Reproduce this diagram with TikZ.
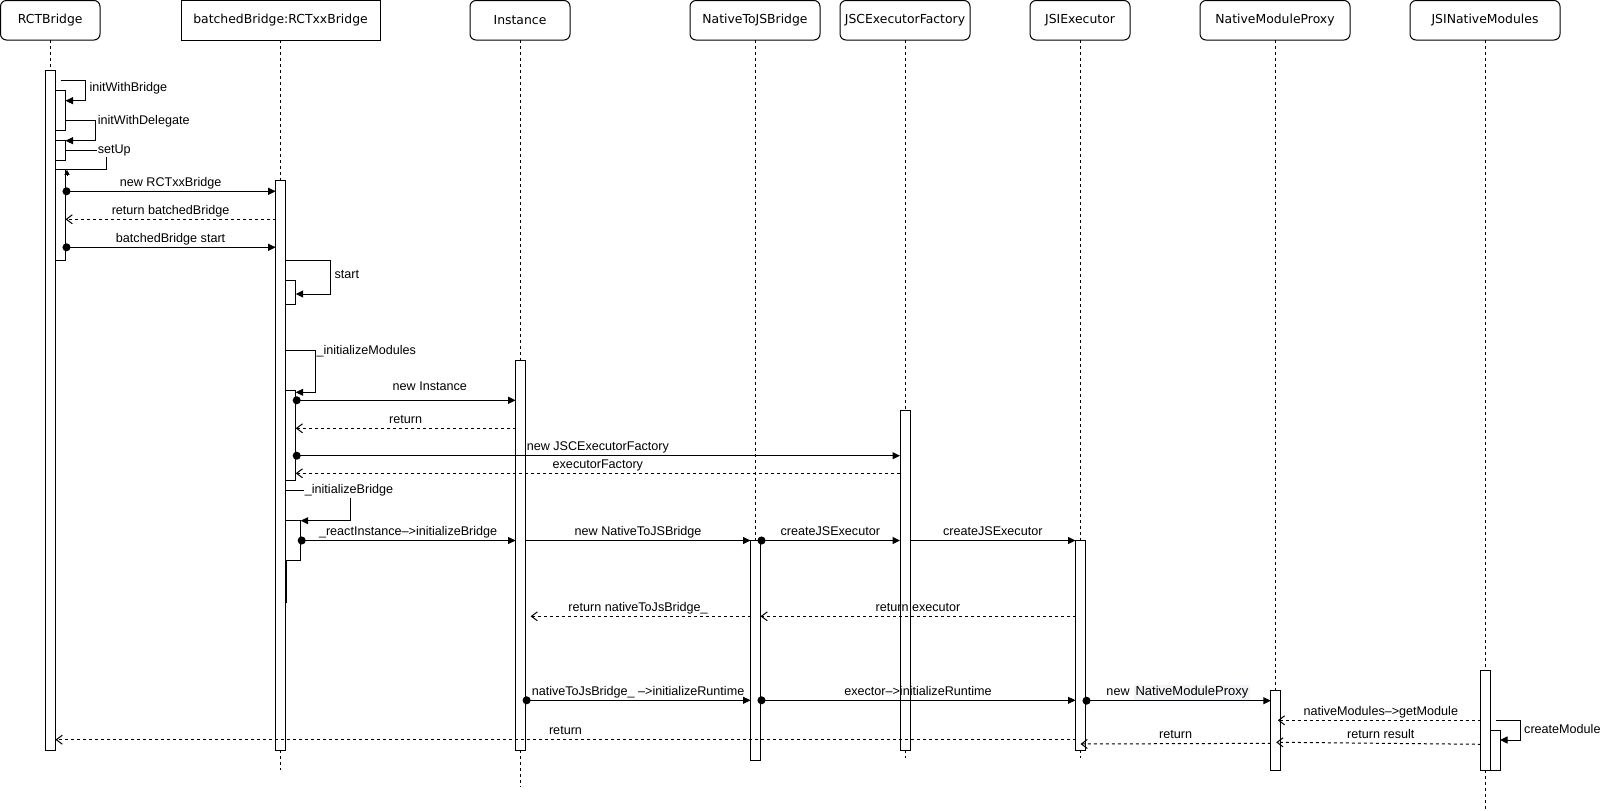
\documentclass[tikz,border=0pt]{standalone}
\usepackage{fontspec}
\setmainfont{Liberation Sans}
\newfontfamily\hdrfont{DejaVu Sans}
\usetikzlibrary{arrows.meta,calc}
\definecolor{pxbg}{RGB}{243,244,247}
\newcommand{\pxbox}[1]{{\setlength{\fboxsep}{1.5pt}\colorbox{pxbg}{\fontsize{13}{14}\selectfont #1}}}

\tikzset{
  hdr/.style={draw, rounded corners=6pt, minimum height=39.5pt, inner sep=0pt, outer sep=0pt,
    font=\hdrfont\fontsize{12.4}{14}\selectfont},
  life/.style={dash pattern=on 3pt off 3pt},
  act/.style={draw, fill=white, minimum width=10pt, inner sep=0pt, outer sep=0pt, anchor=north},
  msg/.style={-{Triangle[length=7.5pt,width=7pt]}},
  call/.style={{Circle[length=8pt]}-{Triangle[length=7.5pt,width=7pt]}, shorten <=-3pt},
  ret/.style={dash pattern=on 3pt off 3pt, -{Straight Barb[length=6pt,width=9pt]}},
  lbl/.style={font=\fontsize{12.6}{14}\selectfont, inner sep=0pt, anchor=base, yshift=5pt},
  side/.style={font=\fontsize{12.6}{14}\selectfont, inner sep=0pt, anchor=west}
}

\begin{document}
\begin{tikzpicture}[x=1pt, y=-1pt, line width=1pt, >=stealth]
        \useasboundingbox (0,0) rectangle (1601,811);

        % lifeline heads
        \node[hdr, minimum width=99.5pt] (rct) at (50.25,20.25) {RCTBridge};
        \node[hdr, sharp corners, minimum width=199pt] (bat) at (280.5,20.25) {batchedBridge:RCTxxBridge};
        \node[hdr, minimum width=100pt] (inst) at (520,20.25) {Instance};
        \node[hdr, minimum width=130pt] (ntj) at (755,20.25) {NativeToJSBridge};
        \node[hdr, minimum width=130pt] (jscf) at (905,20.25) {JSCExecutorFactory};
        \node[hdr, minimum width=100pt] (jsie) at (1080,20.25) {JSIExecutor};
        \node[hdr, minimum width=150pt] (nmp) at (1275,20.25) {NativeModuleProxy};
        \node[hdr, minimum width=150pt] (jsnm) at (1485,20.25) {JSINativeModules};

        % activations
        \node[act, minimum height=679.3pt] (rA) at (50.5,70.7) {};
        \node[act, minimum height=39.3pt] (r1) at (60.5,90.7) {};
        \node[act, minimum height=20pt] (r2) at (60.5,140) {};
        \node[act, minimum height=90.7pt] (r3) at (60.5,169.3) {};
        \node[act, minimum height=569.3pt] (bA) at (280.7,180.7) {};
        \node[act, minimum height=24pt] (b1) at (290.7,280) {};
        \node[act, minimum height=89.3pt] (b2) at (290.7,390.7) {};
        \node[act, minimum height=39.3pt, minimum width=15pt] (b3) at (293.2,520.7) {};
        \node[act, minimum height=389.3pt] (iA) at (520.6,360.7) {};
        \node[act, minimum height=219.3pt] (nA) at (755.5,540.7) {};
        \node[act, minimum height=339.3pt] (fA) at (905,410.7) {};
        \node[act, minimum height=209.3pt] (eA) at (1080.5,540.7) {};
        \node[act, minimum height=79.3pt] (pA) at (1275.8,690.7) {};
        \node[act, minimum height=99.3pt] (mA) at (1485.8,670.7) {};
        \node[act, minimum height=40pt, minimum width=9.2pt] (m1) at (1495.4,730) {};
        \draw ($(b3.south west)+(0.8,0)$) -- ++(0,43);

        \foreach \h/\a/\e in {rct/rA/0, bat/bA/20, inst/iA/37, ntj/nA/0, jscf/fA/8, jsie/eA/8, nmp/pA/0, jsnm/mA/41} {
            \draw[life] (\h.south) -- (\h.south |- \a.north);
            \draw[life] (\h.south |- \a.south) -- ++(0,\e);
        }

        % RCTBridge
        \draw[msg] ($(rA.east |- 0,80.7)+(5,0)$) -- ++(25,0) |- (r1.east |- 0,100.7);
        \node[side] (tBridge) at (89,88) {initWithBridge};
        \draw[msg] (r1.east |- 0,120) -- ++(30,0) |- (r2.east |- 0,140.7);
        \node[side] (tDelegate) at (97.3,121) {initWithDelegate};
        \draw (r2.east |- 0,150) -- ++(40.5,0) |- (r3.north east);
        \node[side, fill=white, inner sep=1pt] (tSetUp) at (96.3,150.5) {setUp};
        \draw[-{Triangle[length=5pt,width=5pt]}] ($(r3.north east)+(1.5,5.5)$) -- ($(r3.north east)+(1.5,0.5)$);

        \draw[call] (r3.east |- 0,191.3) -- node[lbl] {new RCTxxBridge} (bA.west |- 0,191.3);
        \draw[ret] (bA.west |- 0,219.3) -- node[lbl] {return batchedBridge} (r3.east |- 0,219.3);
        \draw[call] (r3.east |- 0,247.3) -- node[lbl] {batchedBridge start} (bA.west |- 0,247.3);

        % batchedBridge
        \draw[msg] (bA.east |- 0,260) -- ++(44.3,0) |- (b1.east |- 0,294);
        \node[side] (tStart) at (334,274) {start};
        \draw[msg] (bA.east |- 0,350.7) -- ++(29.3,0) |- (b2.east |- 0,392.3);
        \node[side] (tModules) at (316,350.7) {\_initializeModules};
        \draw[call] (b2.east |- 0,400.3) -- node[lbl, pos=.61, yshift=5.1pt] {new Instance} (iA.west |- 0,400.3);
        \draw[ret] (iA.west |- 0,428.3) -- node[lbl] {return} (b2.east |- 0,428.3);
        \draw[call] (b2.east |- 0,455.7) -- node[lbl] {new JSCExecutorFactory} (fA.west |- 0,455.7);
        \draw[ret] (fA.west |- 0,473.3) -- node[lbl] {executorFactory} (b2.east |- 0,473.3);
        \draw[msg] (bA.east |- 0,490.7) -- ++(64.6,0) |- (b3.east |- 0,520.7);
        \node[side, fill=white, inner sep=1pt, anchor=center] (tBridgeInit) at (349,490.7) {\_initializeBridge};
        \draw[call] (b3.east |- 0,540.5) -- node[lbl] {\_reactInstance–>initializeBridge} (iA.west |- 0,540.5);

        % Instance, NativeToJSBridge, executors
        \draw[msg] (iA.east |- 0,540.5) -- node[lbl] {new NativeToJSBridge} (nA.west |- 0,540.5);
        \draw[call] (nA.east |- 0,540.5) -- node[lbl] {createJSExecutor} (fA.west |- 0,540.5);
        \draw[msg] (fA.east |- 0,540.5) -- node[lbl] {createJSExecutor} (eA.west |- 0,540.5);
        \draw[ret] (eA.west |- 0,616.3) -- node[lbl] {return executor} (nA.east |- 0,616.3);
        \draw[ret, shorten >=5pt] (nA.west |- 0,616.3) -- node[lbl] {return nativeToJsBridge\_} (iA.east |- 0,616.3);
        \draw[call] (iA.east |- 0,700.3) -- node[lbl] {nativeToJsBridge\_ –>initializeRuntime} (nA.west |- 0,700.3);
        \draw[call] (nA.east |- 0,700.3) -- node[lbl] {exector–>initializeRuntime} (eA.west |- 0,700.3);

        % native modules
        \draw[call] (eA.east |- 0,700.7) -- node[lbl] {new\hspace{4.5pt}\pxbox{NativeModuleProxy}} (pA.west |- 0,700.7);
        \draw[ret, shorten >=-3pt] (mA.west |- 0,720.3) -- node[lbl] {nativeModules–>getModule} (pA.east |- 0,720.3);
        \draw[msg] ($(mA.east |- 0,720.3)+(4.7,0)$) -- ++(24.5,0) |- (m1.east |- 0,740);
        \node[side] (tCreate) at (1523.7,729.3) {createModule};
        \draw[ret, shorten >=-4.6pt] (mA.west |- 0,744.3) -- node[lbl] {return result} (pA.east |- 0,742.3);
        \draw[ret] (pA.west |- 0,743.3) -- node[lbl] {return} (eA.center |- 0,744);
        \draw[ret] (eA.west |- 0,739.7) -- node[lbl] {return} (rA.east |- 0,739.7);
\end{tikzpicture}
\end{document}
